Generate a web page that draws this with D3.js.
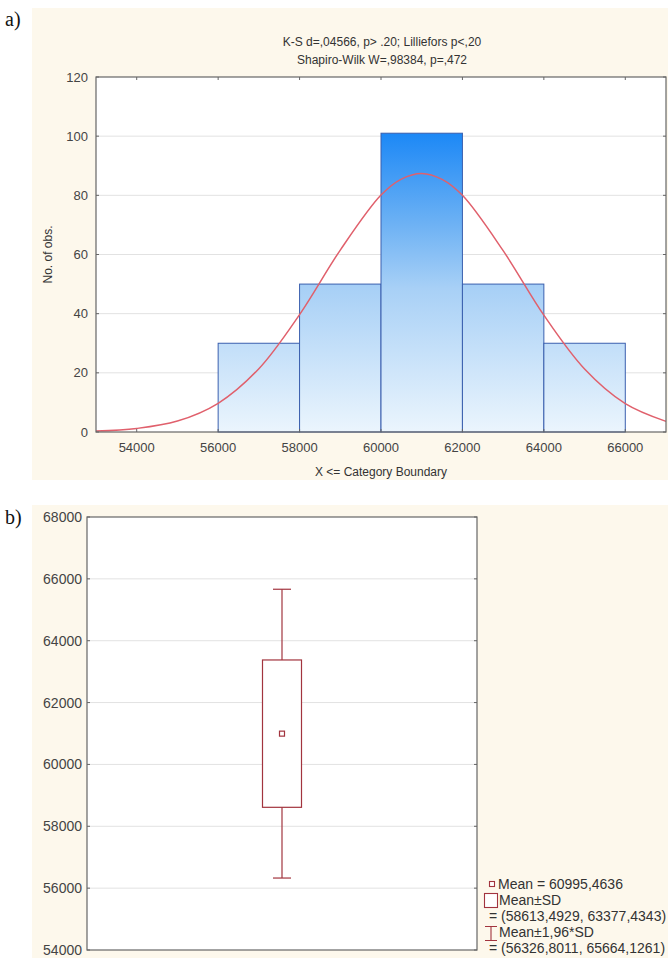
<head>
  <script src="https://d3js.org/d3.v7.min.js"></script>
  <style>
    body { margin: 0; background: #fff; }
    text { font-family: "Liberation Sans", Arial, sans-serif; }
  </style>
</head>
<body>
  <svg id="fig" width="668" height="958" viewBox="0 0 668 958" xmlns="http://www.w3.org/2000/svg"></svg>
  <script>
    // histogram (panel a)
    var binEdges = [56000, 58000, 60000, 62000, 64000, 66000];
    var counts = [30, 50, 101, 50, 30];
    var xTicks = [54000, 56000, 58000, 60000, 62000, 64000, 66000];
    var yTicksA = [0, 20, 40, 60, 80, 100, 120];
    // fitted normal curve
    var curveX = [53000, 54000, 55000, 56000, 57000, 58000, 59000, 60000, 60500, 61000, 61500, 62000, 63000, 64000, 65000, 66000, 67000];
    var curveY = [0.3, 1.2, 3.7, 9.7, 21.4, 39.7, 61.5, 80.1, 85.5, 87.4, 85.4, 80.0, 61.3, 39.5, 21.3, 9.6, 3.6];
    var titleLines = ["K-S d=,04566, p> .20; Lilliefors p<,20", "Shapiro-Wilk W=,98384, p=,472"];

    // box plot (panel b)
    var boxMean = 60995.4636;
    var boxSD = [58613.4929, 63377.4343];
    var box196 = [56326.8011, 65664.1261];
    var yTicksB = [54000, 56000, 58000, 60000, 62000, 64000, 66000, 68000];
    var legendLines = ["Mean = 60995,4636", "Mean\u00b1SD", "= (58613,4929, 63377,4343)", "Mean\u00b11,96*SD", "= (56326,8011, 65664,1261)"];

    var svg = d3.select("#fig");
    var cream = "#fdf8ec";
    var frame = "#666";
    var grid = "#e2e2e2";
    var tickCol = "#444";

    // ---------- panel a ----------
    svg.append("text").attr("x", 5).attr("y", 26).text("a)")
      .style("font-family", "'Liberation Serif', serif").attr("font-size", 20).attr("fill", "#111");
    svg.append("rect").attr("x", 32).attr("y", 8).attr("width", 636).attr("height", 472).attr("fill", cream);

    var ax = { l: 96, r: 666, t: 77, b: 432 };
    var x = d3.scaleLinear().domain([53000, 67000]).range([ax.l, ax.r]);
    var ya = d3.scaleLinear().domain([0, 120]).range([ax.b, ax.t]);

    svg.append("rect").attr("x", ax.l).attr("y", ax.t).attr("width", ax.r - ax.l).attr("height", ax.b - ax.t).attr("fill", "#fff");

    var ga = svg.append("g");
    ga.selectAll("line.grid").data(yTicksA.slice(1, -1)).enter().append("line")
      .attr("x1", ax.l).attr("x2", ax.r).attr("y1", function(d) { return ya(d); }).attr("y2", function(d) { return ya(d); })
      .attr("stroke", grid).attr("stroke-width", 1);

    var defs = svg.append("defs");
    var grad = defs.append("linearGradient").attr("id", "barGrad").attr("gradientUnits", "userSpaceOnUse")
      .attr("x1", 0).attr("x2", 0).attr("y1", ya(101)).attr("y2", ya(0));
    grad.append("stop").attr("offset", "0").attr("stop-color", "#1c88f6");
    grad.append("stop").attr("offset", "0.3").attr("stop-color", "#6cb1f4");
    grad.append("stop").attr("offset", "0.52").attr("stop-color", "#a8d0f6");
    grad.append("stop").attr("offset", "1").attr("stop-color", "#ebf5fd");

    ga.selectAll("rect.bar").data(counts).enter().append("rect")
      .attr("x", function(d, i) { return x(binEdges[i]); })
      .attr("width", function(d, i) { return x(binEdges[i + 1]) - x(binEdges[i]); })
      .attr("y", function(d) { return ya(d); })
      .attr("height", function(d) { return ya(0) - ya(d); })
      .attr("fill", "url(#barGrad)").attr("stroke", "#3a5fae").attr("stroke-width", 1);

    var line = d3.line().x(function(d, i) { return x(curveX[i]); }).y(function(d) { return ya(d); })
      .curve(d3.curveCatmullRom);
    ga.append("path").datum(curveY).attr("d", line).attr("fill", "none")
      .attr("stroke", "#e0606c").attr("stroke-width", 1.5);

    // frame + inward ticks
    ga.append("rect").attr("x", ax.l).attr("y", ax.t).attr("width", ax.r - ax.l).attr("height", ax.b - ax.t)
      .attr("fill", "none").attr("stroke", frame).attr("stroke-width", 1.2);
    ga.selectAll("line.xt").data(xTicks).enter().append("line")
      .attr("x1", function(d) { return x(d); }).attr("x2", function(d) { return x(d); })
      .attr("y1", ax.t).attr("y2", ax.t + 3).attr("stroke", frame);
    ga.selectAll("line.xb").data(xTicks).enter().append("line")
      .attr("x1", function(d) { return x(d); }).attr("x2", function(d) { return x(d); })
      .attr("y1", ax.b).attr("y2", ax.b - 3).attr("stroke", frame);
    ga.selectAll("line.yl").data(yTicksA).enter().append("line")
      .attr("x1", ax.l).attr("x2", ax.l + 3).attr("y1", function(d) { return ya(d); }).attr("y2", function(d) { return ya(d); })
      .attr("stroke", frame);
    ga.selectAll("line.yr").data(yTicksA).enter().append("line")
      .attr("x1", ax.r).attr("x2", ax.r - 3).attr("y1", function(d) { return ya(d); }).attr("y2", function(d) { return ya(d); })
      .attr("stroke", frame);

    ga.selectAll("text.yl").data(yTicksA).enter().append("text")
      .attr("x", ax.l - 8).attr("y", function(d) { return ya(d) + 4.5; }).attr("text-anchor", "end")
      .attr("font-size", 13).attr("fill", tickCol).text(function(d) { return d; });
    ga.selectAll("text.xl").data(xTicks).enter().append("text")
      .attr("x", function(d) { return x(d); }).attr("y", ax.b + 20).attr("text-anchor", "middle")
      .attr("font-size", 13).attr("fill", tickCol).text(function(d) { return d; });

    ga.selectAll("text.title").data(titleLines).enter().append("text")
      .attr("x", 382).attr("y", function(d, i) { return 46 + i * 18; }).attr("text-anchor", "middle")
      .attr("font-size", 12).attr("fill", "#333").text(function(d) { return d; });
    ga.append("text").attr("x", 381).attr("y", 476).attr("text-anchor", "middle")
      .attr("font-size", 12).attr("fill", "#333").text("X <= Category Boundary");
    ga.append("text").attr("transform", "translate(52," + ((ax.t + ax.b) / 2) + ") rotate(-90)")
      .attr("text-anchor", "middle").attr("font-size", 12).attr("fill", "#333").text("No. of obs.");

    // ---------- panel b ----------
    svg.append("text").attr("x", 5).attr("y", 524).text("b)")
      .style("font-family", "'Liberation Serif', serif").attr("font-size", 20).attr("fill", "#111");
    svg.append("rect").attr("x", 32).attr("y", 505).attr("width", 636).attr("height", 453).attr("fill", cream);

    var bx = { l: 87, r: 477, t: 517, b: 950 };
    var yb = d3.scaleLinear().domain([54000, 68000]).range([bx.b, bx.t]);
    var cx = 282, boxW = 39, capW = 18;
    var boxCol = "#a2343e";

    svg.append("rect").attr("x", bx.l).attr("y", bx.t).attr("width", bx.r - bx.l).attr("height", bx.b - bx.t).attr("fill", "#fff");
    var gb = svg.append("g");
    gb.selectAll("line.grid").data(yTicksB.slice(1, -1)).enter().append("line")
      .attr("x1", bx.l).attr("x2", bx.r).attr("y1", function(d) { return yb(d); }).attr("y2", function(d) { return yb(d); })
      .attr("stroke", grid).attr("stroke-width", 1);

    // whiskers
    gb.append("line").attr("x1", cx).attr("x2", cx).attr("y1", yb(box196[0])).attr("y2", yb(box196[1]))
      .attr("stroke", boxCol).attr("stroke-width", 1.2);
    gb.selectAll("line.cap").data(box196).enter().append("line")
      .attr("x1", cx - capW / 2).attr("x2", cx + capW / 2)
      .attr("y1", function(d) { return yb(d); }).attr("y2", function(d) { return yb(d); })
      .attr("stroke", boxCol).attr("stroke-width", 1.2);
    gb.append("rect").attr("x", cx - boxW / 2).attr("width", boxW)
      .attr("y", yb(boxSD[1])).attr("height", yb(boxSD[0]) - yb(boxSD[1]))
      .attr("fill", "#fff").attr("stroke", boxCol).attr("stroke-width", 1.2);
    gb.append("rect").attr("x", cx - 2.5).attr("y", yb(boxMean) - 2.5).attr("width", 5).attr("height", 5)
      .attr("fill", "#fff").attr("stroke", boxCol).attr("stroke-width", 1.2);

    gb.append("rect").attr("x", bx.l).attr("y", bx.t).attr("width", bx.r - bx.l).attr("height", bx.b - bx.t)
      .attr("fill", "none").attr("stroke", frame).attr("stroke-width", 1.2);
    gb.selectAll("line.yl").data(yTicksB).enter().append("line")
      .attr("x1", bx.l).attr("x2", bx.l + 3).attr("y1", function(d) { return yb(d); }).attr("y2", function(d) { return yb(d); })
      .attr("stroke", frame);
    gb.selectAll("line.yr").data(yTicksB).enter().append("line")
      .attr("x1", bx.r).attr("x2", bx.r - 3).attr("y1", function(d) { return yb(d); }).attr("y2", function(d) { return yb(d); })
      .attr("stroke", frame);
    gb.selectAll("text.yl").data(yTicksB).enter().append("text")
      .attr("x", bx.l - 5).attr("y", function(d) { return yb(d) + 5; }).attr("text-anchor", "end")
      .attr("font-size", 14).attr("fill", tickCol).text(function(d) { return d; });

    // legend
    var lg = svg.append("g");
    lg.append("rect").attr("x", 489.5).attr("y", 881.5).attr("width", 5).attr("height", 5)
      .attr("fill", "#fff").attr("stroke", boxCol).attr("stroke-width", 1.1);
    lg.append("rect").attr("x", 484.5).attr("y", 893.5).attr("width", 13).attr("height", 14)
      .attr("fill", "#fff").attr("stroke", boxCol).attr("stroke-width", 1.1);
    lg.append("path").attr("d", "M485,926.5H497M491,926.5V940.5M485,940.5H497")
      .attr("fill", "none").attr("stroke", boxCol).attr("stroke-width", 1.1);
    var legX = [498, 499, 489, 499, 489];
    var legY = [889, 905, 921, 937, 953];
    lg.selectAll("text").data(legendLines).enter().append("text")
      .attr("x", function(d, i) { return legX[i]; }).attr("y", function(d, i) { return legY[i]; })
      .attr("font-size", 14).attr("fill", "#333").text(function(d) { return d; });
  </script>
</body>
